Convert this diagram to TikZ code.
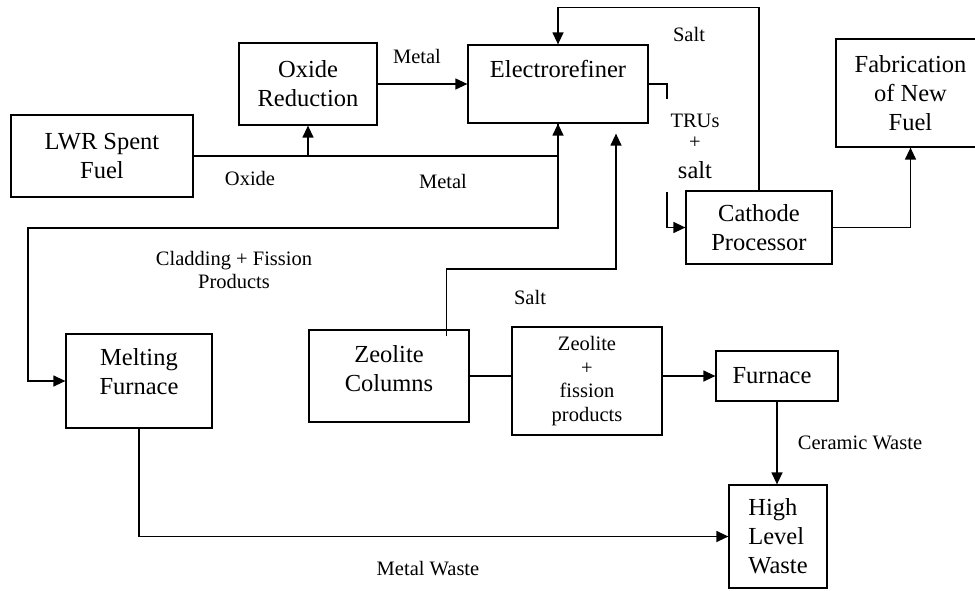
\documentclass[tikz,border=0pt]{standalone}
\usepackage{fontspec}
\setmainfont{Liberation Serif}
\usetikzlibrary{arrows.meta,calc}

\tikzset{
  x=1pt, y=-1pt,
  every node/.style={inner sep=0pt},
  box/.style={draw, line width=1.25pt, rectangle, align=center,
              font=\fontsize{24.5}{29}\selectfont},
  boxtext/.style={align=center, font=\fontsize{24.5}{29}\selectfont},
  smalltext/.style={align=center, font=\fontsize{20.5}{23}\selectfont},
  bigtext/.style={font=\fontsize{24.5}{29}\selectfont},
  link/.style={line width=1.3pt},
  flow/.style={line width=1.3pt, -{Triangle[length=12pt,width=11pt]}},
}

\begin{document}
\begin{tikzpicture}
\useasboundingbox (0,0) rectangle (975,590);

% process boxes
\node[box, minimum width=182, minimum height=82] (lwr) at (102,156) {LWR Spent\\Fuel};
\node[box, minimum width=138, minimum height=82] (ox) at (308,84) {Oxide\\Reduction};
\node[box, minimum width=180, minimum height=78] (er) at (558,84) {};
\node[boxtext, anchor=base] (ertext) at (558,77) {Electrorefiner};
\node[box, minimum width=149, minimum height=108] (fab) at (910.5,93) {Fabrication\\of New\\Fuel};
\node[box, minimum width=146, minimum height=73] (cp) at (759,227.5) {Cathode\\Processor};
\node[box, minimum width=146, minimum height=94] (mf) at (139,381) {};
\node[boxtext] (mftext) at (139,372) {Melting\\Furnace};
\node[box, minimum width=160, minimum height=92] (zc) at (389,376) {};
\node[boxtext] (zctext) at (389,369) {Zeolite\\Columns};
\node[box, minimum width=150, minimum height=108,
      font=\fontsize{20.5}{23.5}\selectfont] (zfp) at (587,381) {Zeolite\\+\\fission\\products};
\node[box, minimum width=122, minimum height=50] (fur) at (777,376) {\hspace*{-10pt}Furnace};
\node[box, minimum width=98, minimum height=103, align=left] (hlw) at (778,536.5) {High\\Level\\Waste};

% stream labels
\node[smalltext, anchor=base] (lmetal1) at (417,63) {Metal};
\node[smalltext, anchor=base] (loxide) at (250,185) {Oxide};
\node[smalltext, anchor=base] (lmetal2) at (443,188) {Metal};
\node[smalltext, anchor=base] (lsalt1) at (689,41) {Salt};
\node[smalltext, anchor=base] (ltru) at (695,127) {TRUs};
\node[smalltext, anchor=base] (lplus) at (695,148) {+};
\node[bigtext, anchor=base] (lsaltb) at (695,178) {salt};
\node[smalltext] (lclad) at (234,270) {Cladding + Fission\\Products};
\node[smalltext, anchor=base] (lsalt2) at (530,304) {Salt};
\node[smalltext, anchor=base] (lcer) at (860,449) {Ceramic Waste};
\node[smalltext, anchor=base] (lmw) at (428,575) {Metal Waste};

% connectors
\draw[flow] (lwr.east) -| (er.south);
\draw[flow] (lwr.east -| ox.south) -- (ox.south);
\draw[flow] (ox.east) -- (er.west);
\draw[flow] (er.south) |- (28,228) |- (mf.west);
\draw[flow] (cp.north) -- ++(0,-183) -| (er.north);

\coordinate (trtop) at (667,99);
\coordinate (trbot) at (667,192);
\draw[link] (er.east) -| (trtop);
\draw[flow] (trbot) |- (cp.west);

\draw[flow] (cp.east) -| (fab.south);

\coordinate (zsalt) at ($(zc.north east)+(-23,7)$);
\draw[flow, shorten >=10pt] (zsalt) |- (616,269) -- (er.south -| 616,0);

\draw[link] (zc.east) -- (zc.east -| zfp.west);
\draw[flow] (zfp.east |- fur.west) -- (fur.west);
\draw[flow] (fur.south) -- (fur.south |- hlw.north);
\draw[flow] (mf.south) |- (hlw.west);
\end{tikzpicture}
\end{document}
